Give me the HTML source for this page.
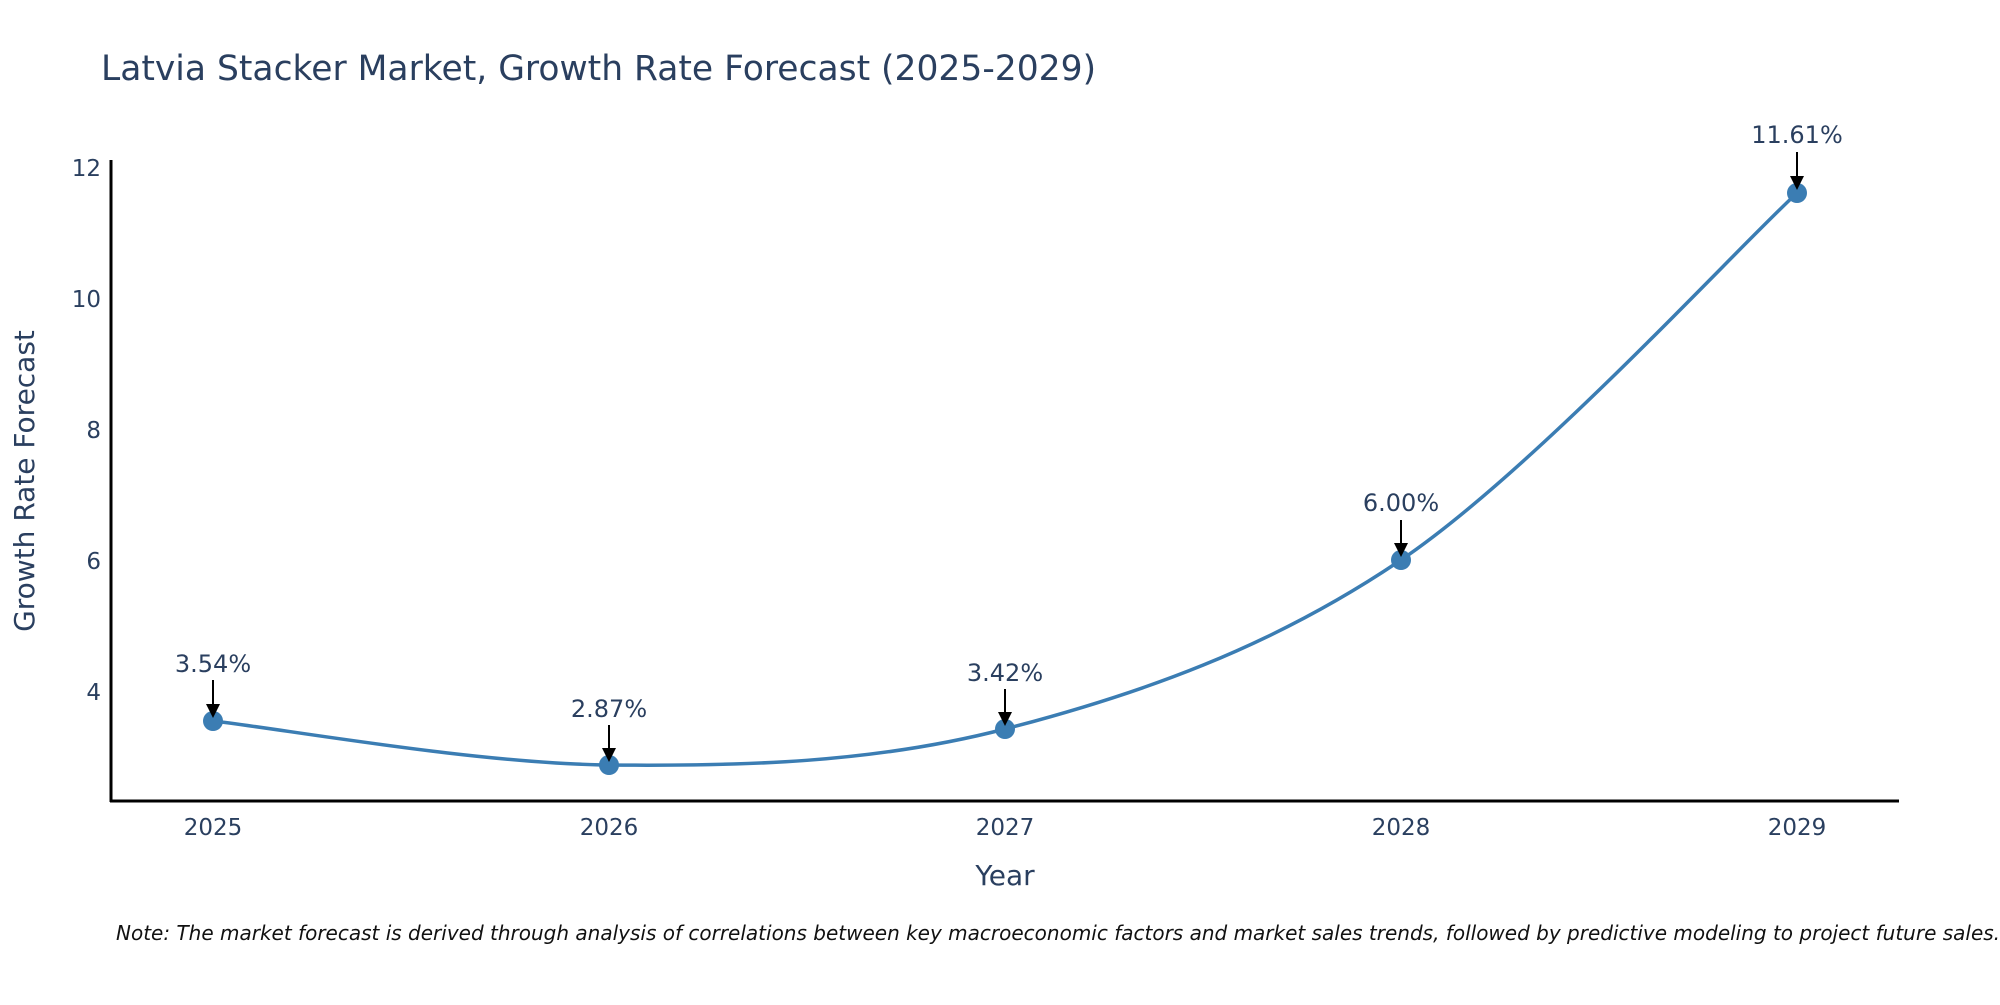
<!DOCTYPE html>
<html><head><meta charset="utf-8"><style>
body{margin:0;background:#fff;}
svg text{font-family:"DejaVu Sans","Liberation Sans",sans-serif;}
</style></head><body>
<svg width="2000" height="1000" viewBox="0 0 2000 1000" xmlns="http://www.w3.org/2000/svg">
<rect width="2000" height="1000" fill="#fff"/>
<text x="101" y="80" font-size="34.5" fill="#2a3f5f">Latvia Stacker Market, Growth Rate Forecast (2025-2029)</text>
<line x1="111" y1="160" x2="111" y2="802" stroke="#000" stroke-width="3"/>
<line x1="110" y1="801" x2="1899" y2="801" stroke="#000" stroke-width="3"/>
<g font-size="23" fill="#2a3f5f" text-anchor="end">
<text x="101" y="176">12</text>
<text x="101" y="307">10</text>
<text x="101" y="438">8</text>
<text x="101" y="569">6</text>
<text x="101" y="700">4</text>
</g>
<g font-size="23" fill="#2a3f5f" text-anchor="middle">
<text x="213" y="835">2025</text>
<text x="609" y="835">2026</text>
<text x="1005" y="835">2027</text>
<text x="1401" y="835">2028</text>
<text x="1797" y="835">2029</text>
</g>
<text x="1005" y="885" font-size="28" fill="#2a3f5f" text-anchor="middle">Year</text>
<text transform="translate(34,481) rotate(-90)" font-size="28" fill="#2a3f5f" text-anchor="middle">Growth Rate Forecast</text>
<path d="M213,721 C279,728.3 477,763.7 609,765 C741,766.3 873,763.2 1005,729 C1137,694.8 1269,649.3 1401,560 C1533,470.7 1731,254.2 1797,193" fill="none" stroke="#3b7db3" stroke-width="3.5"/>
<g fill="#3b7db3">
<circle cx="213" cy="721" r="10"/><circle cx="609" cy="765" r="10"/><circle cx="1005" cy="729" r="10"/><circle cx="1401" cy="560" r="10"/><circle cx="1797" cy="193" r="10"/>
</g>
<g stroke="#000" stroke-width="2" fill="#000">
<line x1="213" y1="680" x2="213" y2="708"/><polygon points="206,704 220,704 213,718" stroke="none"/>
<line x1="609" y1="725" x2="609" y2="752"/><polygon points="602,748 616,748 609,762" stroke="none"/>
<line x1="1005" y1="689" x2="1005" y2="716"/><polygon points="998,712 1012,712 1005,726" stroke="none"/>
<line x1="1401" y1="520" x2="1401" y2="547"/><polygon points="1394,543 1408,543 1401,557" stroke="none"/>
<line x1="1797" y1="152" x2="1797" y2="180"/><polygon points="1790,176 1804,176 1797,190" stroke="none"/>
</g>
<g font-size="24" fill="#2a3f5f" text-anchor="middle">
<text x="213" y="672">3.54%</text>
<text x="609" y="717">2.87%</text>
<text x="1005" y="681">3.42%</text>
<text x="1401" y="511">6.00%</text>
<text x="1797" y="143">11.61%</text>
</g>
<text x="116" y="940" font-size="20" font-style="italic" fill="#111">Note: The market forecast is derived through analysis of correlations between key macroeconomic factors and market sales trends, followed by predictive modeling to project future sales.</text>
</svg>
</body></html>
